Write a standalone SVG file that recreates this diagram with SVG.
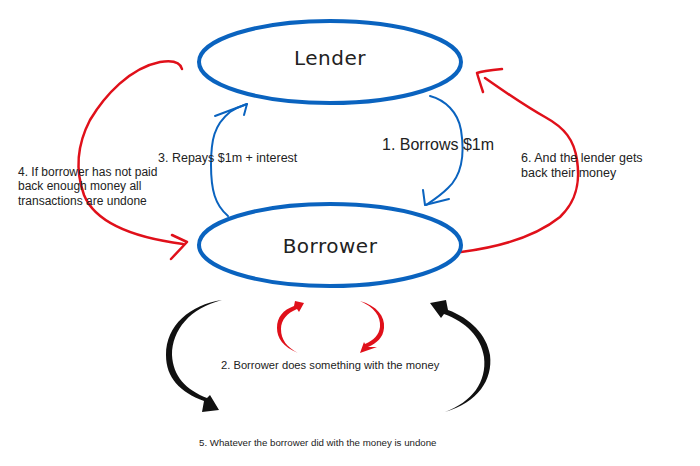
<svg xmlns="http://www.w3.org/2000/svg" width="700" height="466" viewBox="0 0 700 466">
<style>
.node{fill:#fff;stroke:#0a63bf;stroke-width:4}
.nt{font-family:"DejaVu Sans",sans-serif;font-size:20px;fill:#222;text-anchor:middle;letter-spacing:0.5px}
.lb{font-family:"Liberation Sans",sans-serif;fill:#222}
.blue{fill:none;stroke:#0a63bf;stroke-width:2;stroke-linecap:round;stroke-linejoin:round}
.red{fill:none;stroke:#e0101a;stroke-width:2.5;stroke-linecap:round;stroke-linejoin:round}
.redf{fill:#e0101a}
.blk{fill:#111}
</style>
<rect width="700" height="466" fill="#fff"/>
<g id="connectors">
  <path class="blue" d="M430,96 C445,100 458,112 461,130 C465,155 462,175 448,188 C440,196 432,201 426,205"/>
  <path class="blue" d="M423,190 L425,205 L449,199"/>
  <path class="blue" d="M228,216 C215,205 211,190 211,165 C211,140 214,125 230,112 C236,108 241,106 247,104"/>
  <path class="blue" d="M215,116 L247,104 L244,115"/>
  <path class="red" d="M182,69 C180,61 172,60 160,62 C130,68 105,95 90,120 C77,145 75,170 84,195 C95,222 130,237 183,244"/>
  <path class="red" d="M172,235 L187,242 L171,259"/>
  <path class="red" d="M461,252 C500,247 535,237 560,217 C578,200 580,180 577,160 C574,140 565,128 545,117 C525,106 505,92 485,78"/>
  <path class="red" d="M502,69 C492,70 482,71 477,73 C479,80 481,86 483,92" stroke-width="3"/>
  <path class="blk" d="M222,300 C190,305 166,325 166,355 C166,378 180,392 204,401 L202,412 L219,410 L210,395 L207,398 C186,390 173,376 172,355 C172,330 190,308 222,300 Z"/>
  <path class="blk" d="M445,412 C478,402 493,380 490,355 C487,335 470,318 448,310 L446,300 L430,303 L441,318 L444,314 C466,322 481,337 484,357 C487,382 472,402 445,412 Z"/>
  <path class="redf" d="M298,353 C283,347 277,338 277,328 C277,317 283,310 294,306 L295,301 L304,303 L299,312 L297,309 C287,313 281,320 281,329 C281,340 287,347 298,353 Z"/>
  <path class="redf" d="M360,301 C377,306 385,316 384,328 C383,338 377,343 368,347 L377,347 L360,353 L364,342 L365,344 C374,340 379,335 380,327 C381,316 374,307 360,301 Z"/>
</g>
<g id="lender">
  <ellipse class="node" cx="330" cy="62" rx="131" ry="41"/>
  <text class="nt" x="330" y="65">Lender</text>
</g>
<g id="borrower">
  <ellipse class="node" cx="330" cy="245" rx="131" ry="41"/>
  <text class="nt" x="330" y="253">Borrower</text>
</g>
<g id="labels">
  <text class="lb" x="382" y="150" font-size="16">1. Borrows $1m</text>
  <text class="lb" x="158" y="162" font-size="12.5">3. Repays $1m + interest</text>
  <text class="lb" x="18" y="176" font-size="12">4. If borrower has not paid</text>
  <text class="lb" x="18" y="190" font-size="12">back enough money all</text>
  <text class="lb" x="18" y="205" font-size="12">transactions are undone</text>
  <text class="lb" x="521" y="162" font-size="12.5">6. And the lender gets</text>
  <text class="lb" x="521" y="177" font-size="12.5">back their money</text>
  <text class="lb" x="221" y="369" font-size="11.2">2. Borrower does something with the money</text>
  <text class="lb" x="199" y="446" font-size="9.7">5. Whatever the borrower did with the money is undone</text>
</g>
</svg>
